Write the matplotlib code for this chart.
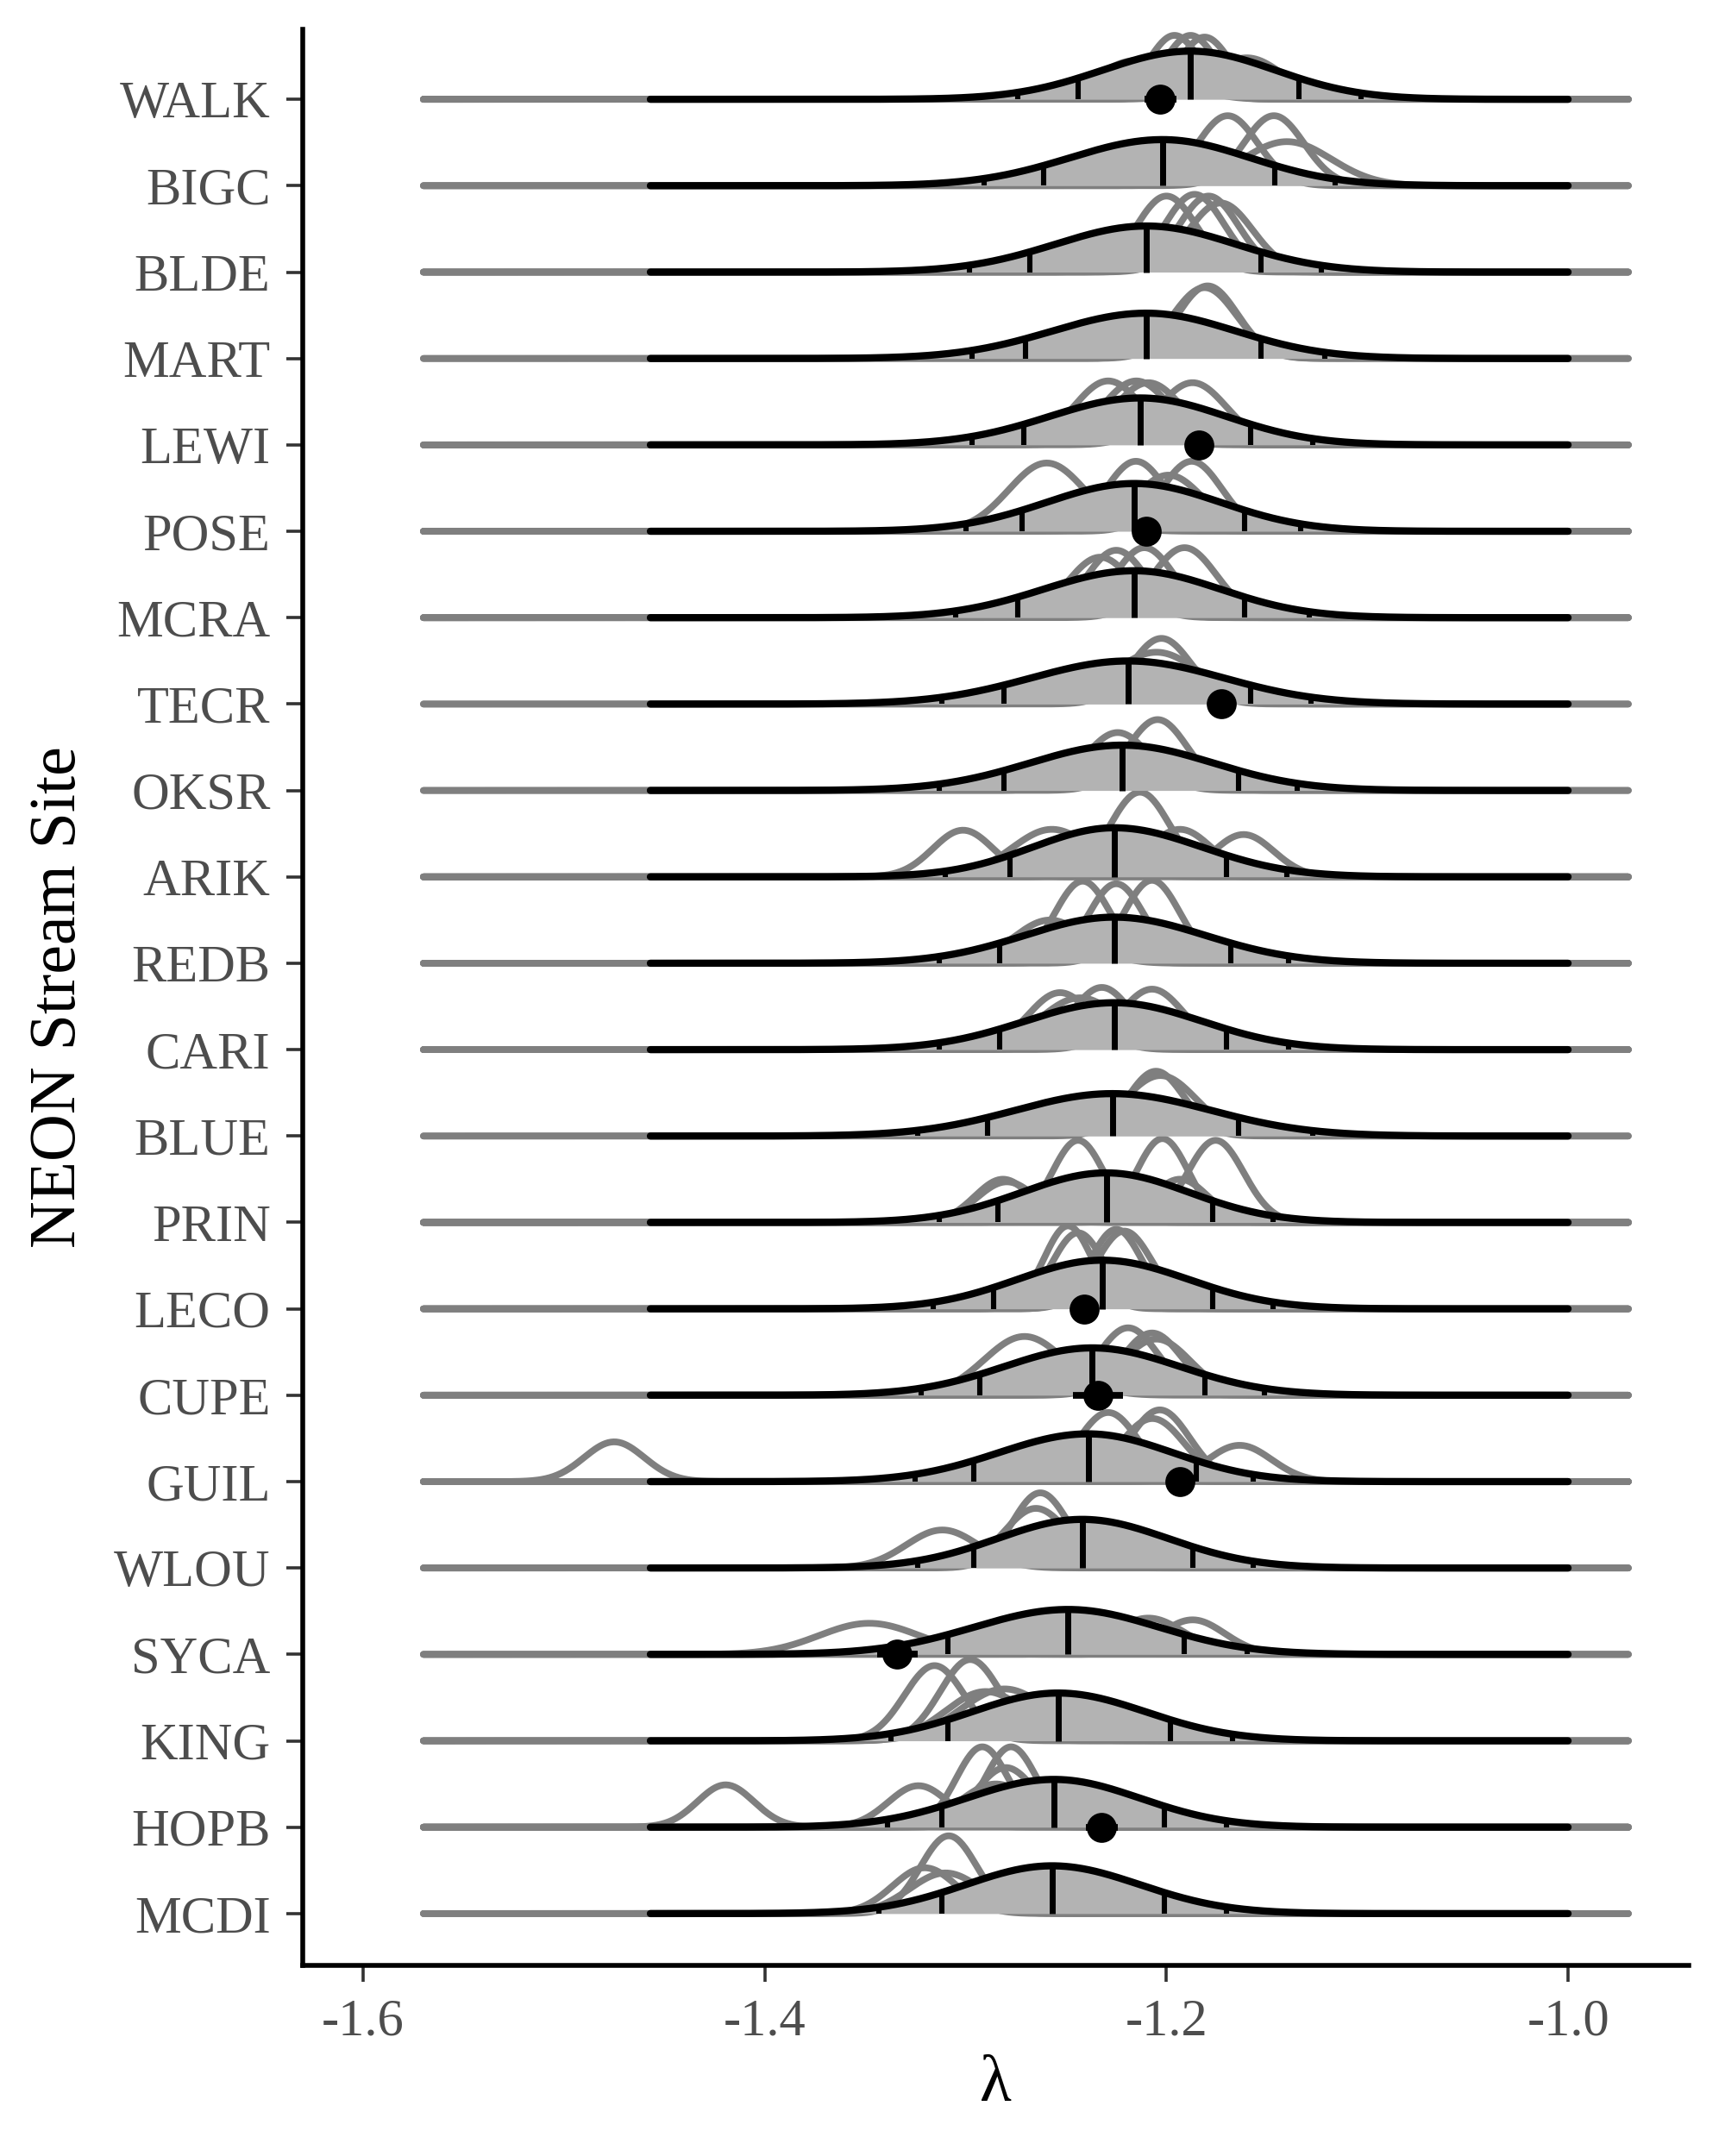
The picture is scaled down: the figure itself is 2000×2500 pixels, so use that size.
import numpy as np
import matplotlib
matplotlib.use('Agg')
import matplotlib.pyplot as plt

plt.rcParams['font.family'] = ['Liberation Serif', 'DejaVu Serif']

### sites, top row first
sites = ['WALK', 'BIGC', 'BLDE', 'MART', 'LEWI', 'POSE', 'MCRA', 'TECR', 'OKSR', 'ARIK', 'REDB',
         'CARI', 'BLUE', 'PRIN', 'LECO', 'CUPE', 'GUIL', 'WLOU', 'SYCA', 'KING', 'HOPB', 'MCDI']

### posterior quantiles per site (2.5%, 10%, 50%, 90%, 97.5%)
post_q025 = [-1.274, -1.291, -1.298, -1.297, -1.297, -1.300, -1.305, -1.312, -1.313, -1.310, -1.313,
             -1.313, -1.324, -1.313, -1.316, -1.322, -1.325, -1.324, -1.337, -1.337, -1.339, -1.343]
post_q10 = [-1.244, -1.261, -1.268, -1.270, -1.271, -1.272, -1.274, -1.281, -1.281, -1.278, -1.283,
            -1.283, -1.289, -1.284, -1.286, -1.293, -1.296, -1.296, -1.309, -1.309, -1.312, -1.312]
post_med = [-1.188, -1.202, -1.210, -1.210, -1.213, -1.216, -1.216, -1.219, -1.222, -1.226, -1.226,
            -1.226, -1.227, -1.230, -1.232, -1.237, -1.239, -1.242, -1.249, -1.254, -1.256, -1.257]
post_q90 = [-1.134, -1.146, -1.153, -1.153, -1.158, -1.161, -1.161, -1.158, -1.164, -1.170, -1.168,
            -1.170, -1.164, -1.177, -1.177, -1.181, -1.185, -1.187, -1.191, -1.198, -1.201, -1.201]
post_q975 = [-1.103, -1.116, -1.123, -1.121, -1.127, -1.133, -1.129, -1.128, -1.135, -1.140, -1.139,
             -1.139, -1.127, -1.147, -1.147, -1.151, -1.157, -1.157, -1.160, -1.167, -1.170, -1.170]

### individual sample densities (gray): peak location, spread, peak height (rows)
gray_mu = [
    [-1.196, -1.188, -1.181, -1.215, -1.160],
    [-1.1695, -1.1465, -1.140],
    [-1.200, -1.186, -1.179, -1.173],
    [-1.1795, -1.181],
    [-1.229, -1.215, -1.209, -1.187],
    [-1.2596, -1.2152, -1.199, -1.1874],
    [-1.233, -1.225, -1.211, -1.191],
    [-1.2025, -1.205],
    [-1.2044, -1.2243],
    [-1.2132, -1.3013, -1.257, -1.1933, -1.1616],
    [-1.2417, -1.225, -1.2072, -1.258],
    [-1.253, -1.2322, -1.2072, -1.243],
    [-1.2052, -1.203],
    [-1.244, -1.202, -1.1755, -1.2814, -1.2795, -1.1933],
    [-1.249, -1.244, -1.225, -1.221],
    [-1.2707, -1.2191, -1.2072, -1.205],
    [-1.475, -1.229, -1.2033, -1.207, -1.1636],
    [-1.2628, -1.265, -1.3116],
    [-1.348, -1.187, -1.209],
    [-1.3155, -1.2977, -1.2806, -1.290],
    [-1.4195, -1.3235, -1.2917, -1.2774, -1.280, -1.285],
    [-1.3084, -1.3203, -1.310],
]
gray_sd = [
    [0.013, 0.013, 0.013, 0.020, 0.018],
    [0.015, 0.015, 0.022],
    [0.015, 0.015, 0.015, 0.016],
    [0.015, 0.016],
    [0.017, 0.017, 0.017, 0.017],
    [0.019, 0.015, 0.017, 0.015],
    [0.016, 0.015, 0.015, 0.016],
    [0.015, 0.022],
    [0.015, 0.016],
    [0.015, 0.015, 0.020, 0.016, 0.015],
    [0.014, 0.014, 0.014, 0.018],
    [0.016, 0.015, 0.016, 0.020],
    [0.014, 0.018],
    [0.013, 0.013, 0.014, 0.014, 0.015, 0.014],
    [0.012, 0.013, 0.013, 0.014],
    [0.020, 0.015, 0.015, 0.017],
    [0.015, 0.015, 0.015, 0.016, 0.016],
    [0.014, 0.016, 0.018],
    [0.025, 0.016, 0.018],
    [0.015, 0.015, 0.022, 0.020],
    [0.014, 0.015, 0.013, 0.013, 0.015, 0.018],
    [0.014, 0.016, 0.018],
]
gray_h = [
    [0.74, 0.74, 0.72, 0.45, 0.48],
    [0.81, 0.81, 0.51],
    [0.88, 0.90, 0.88, 0.80],
    [0.84, 0.82],
    [0.74, 0.74, 0.72, 0.72],
    [0.79, 0.81, 0.65, 0.81],
    [0.70, 0.78, 0.81, 0.81],
    [0.76, 0.60],
    [0.82, 0.67],
    [0.98, 0.54, 0.55, 0.55, 0.49],
    [0.95, 0.92, 0.96, 0.50],
    [0.66, 0.72, 0.70, 0.60],
    [0.75, 0.70],
    [0.95, 0.97, 0.95, 0.50, 0.47, 0.50],
    [0.96, 0.88, 0.92, 0.90],
    [0.68, 0.78, 0.72, 0.65],
    [0.46, 0.80, 0.83, 0.73, 0.42],
    [0.87, 0.69, 0.44],
    [0.36, 0.40, 0.42],
    [0.87, 0.94, 0.60, 0.57],
    [0.49, 0.48, 0.93, 0.93, 0.69, 0.50],
    [0.90, 0.53, 0.47],
]

### observed values with error
obs_site = ['WALK', 'LEWI', 'POSE', 'TECR', 'LECO', 'CUPE', 'GUIL', 'SYCA', 'HOPB']
obs_val = [-1.203, -1.184, -1.210, -1.1727, -1.241, -1.234, -1.1933, -1.334, -1.2322]
obs_err = [0.008, 0.003, 0.003, 0.003, 0.003, 0.0125, 0.003, 0.010, 0.008]

x_ticks = [-1.6, -1.4, -1.2, -1.0]
x_ticklabels = ['-1.6', '-1.4', '-1.2', '-1.0']

### drawing
fill_col = '#b3b3b3'
gray_col = '#7f7f7f'
dens_scale = 0.06
x_black = np.linspace(-1.457, -1.0, 700)
x_gray = np.linspace(-1.57, -0.97, 900)
n = len(sites)

fig = plt.figure(figsize=(10, 12.5), dpi=200)
ax = fig.add_axes([0.1755, 0.0884, 0.8035, 0.898])


def post_dens(x, med, sl, sr):
    sd = np.where(x < med, sl, sr)
    return 2 / (np.sqrt(2 * np.pi) * (sl + sr)) * np.exp(-0.5 * ((x - med) / sd) ** 2)


for i, s in enumerate(sites):
    y0 = n - 1 - i

    # gray sample curves (drawn first, under the fill)
    for mu, sd, h in zip(gray_mu[i], gray_sd[i], gray_h[i]):
        yy = y0 + h * np.exp(-0.5 * ((x_gray - mu) / sd) ** 2)
        ax.plot(x_gray, yy, color=gray_col, lw=2.8, solid_capstyle='round', zorder=1)

    # black posterior
    med = post_med[i]
    sl = (med - post_q10[i]) / 1.2816
    sr = (post_q90[i] - med) / 1.2816
    yy = y0 + dens_scale * post_dens(x_black, med, sl, sr)
    ax.fill_between(x_black, y0, yy, color=fill_col, lw=0, zorder=2)
    ax.plot(x_black, yy, color='black', lw=3.0, solid_capstyle='round', zorder=3)

    for q in [post_q025[i], post_q10[i], post_q90[i], post_q975[i]]:
        top = y0 + dens_scale * post_dens(np.array([q]), med, sl, sr)[0]
        ax.plot([q, q], [y0, top], color='black', lw=2.2, solid_capstyle='butt', zorder=3)
    top = y0 + dens_scale * post_dens(np.array([med]), med, sl, sr)[0]
    ax.plot([med, med], [y0, top], color='black', lw=2.5, solid_capstyle='butt', zorder=3)

for s, v, e in zip(obs_site, obs_val, obs_err):
    y0 = n - 1 - sites.index(s)
    ax.errorbar(v, y0, xerr=e, fmt='o', ms=11.5, color='black', elinewidth=2.8,
                capsize=0, zorder=5)

ax.set_xlim(-1.6301, -0.9399)
ax.set_ylim(-0.6, n - 1 + 0.81)

ax.set_yticks(range(n))
ax.set_yticklabels(sites[::-1])
ax.set_xticks(x_ticks)
ax.set_xticklabels(x_ticklabels)

for sp in ['top', 'right']:
    ax.spines[sp].set_visible(False)
for sp in ['left', 'bottom']:
    ax.spines[sp].set_linewidth(2.0)
    ax.spines[sp].set_color('black')

ax.tick_params(axis='both', length=7.0, width=1.3, color='#333333', labelcolor='#4d4d4d',
               labelsize=21.8, pad=6.5)

fig.text(0.0345, 0.5376, 'NEON Stream Site', rotation=90, ha='center', va='center',
         fontsize=27.3, color='black')
fig.text(0.5773, 0.0332, 'λ', ha='center', va='center', fontsize=27.3, color='black')

fig.savefig('out.png', dpi=200)
